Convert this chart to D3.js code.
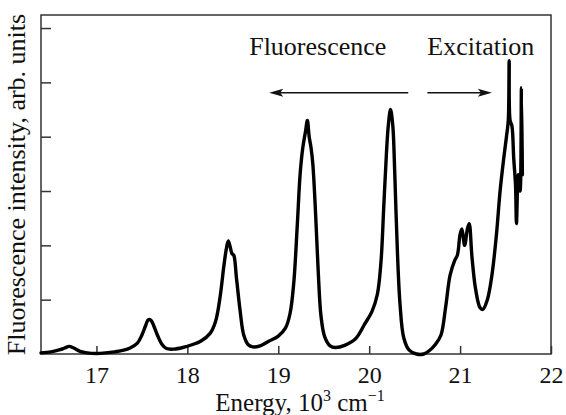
<!DOCTYPE html>
<html>
<head>
<meta charset="utf-8">
<script src="https://cdn.jsdelivr.net/npm/d3@7/dist/d3.min.js"></script>
<style>
  html, body { margin: 0; padding: 0; background: #fff; }
  svg { display: block; }
  text { font-family: "Liberation Serif", "Times New Roman", serif; fill: #111; }
</style>
</head>
<body>
<svg id="chart" width="566" height="415"></svg>
<script>
// Spectrum: energy (10^3 cm^-1) and fluorescence intensity (arb. units)
const energy = [
  16.39, 16.50, 16.60, 16.65, 16.70, 16.75, 16.82, 16.90, 17.00, 17.10,
  17.20, 17.30, 17.37, 17.45, 17.50, 17.54, 17.57, 17.60, 17.63, 17.67,
  17.72, 17.77, 17.85, 17.95, 18.05, 18.15, 18.25, 18.31, 18.36, 18.40,
  18.43, 18.45, 18.47, 18.49, 18.51, 18.54, 18.58, 18.62, 18.67, 18.72,
  18.80, 18.90, 19.00, 19.08, 19.13, 19.17, 19.21, 19.24, 19.27, 19.30,
  19.32, 19.34, 19.36, 19.38, 19.41, 19.44, 19.47, 19.51, 19.57, 19.63,
  19.73, 19.85, 19.95, 20.03, 20.09, 20.13, 20.16, 20.19, 20.21, 20.235,
  20.26, 20.28, 20.31, 20.34, 20.38, 20.44, 20.52, 20.60, 20.66, 20.73,
  20.79, 20.84, 20.89, 20.94, 20.97, 21.00, 21.02, 21.05, 21.08, 21.10,
  21.13, 21.17, 21.22, 21.25, 21.30, 21.35, 21.40, 21.44, 21.48, 21.51,
  21.53, 21.54, 21.55, 21.57, 21.59, 21.61, 21.62, 21.64, 21.66, 21.675,
  21.685
];
const intensity = [
  0.02, 0.04, 0.08, 0.11, 0.14, 0.11, 0.05, 0.02, 0.01, 0.02,
  0.04, 0.07, 0.11, 0.20, 0.35, 0.52, 0.63, 0.62, 0.52, 0.35,
  0.18, 0.10, 0.09, 0.12, 0.17, 0.24, 0.38, 0.60, 1.05, 1.60,
  1.95, 2.08, 1.98, 1.85, 1.82, 1.40, 0.80, 0.35, 0.17, 0.13,
  0.15, 0.24, 0.33, 0.48, 0.75, 1.30, 2.40, 3.30, 3.80, 4.10,
  4.30, 4.00, 3.80, 3.50, 2.60, 1.50, 0.70, 0.32, 0.15, 0.12,
  0.16, 0.28, 0.55, 0.78, 1.10, 1.70, 2.70, 3.70, 4.20, 4.50,
  4.20, 3.40, 1.90, 0.90, 0.30, 0.07, 0.00, 0.00, 0.06, 0.18,
  0.35, 0.85, 1.45, 1.72, 1.82, 2.20, 2.30, 2.00, 2.30, 2.40,
  1.80, 1.20, 0.85, 0.82, 1.00, 1.45, 2.20, 3.00, 3.60, 4.00,
  4.30, 5.40, 4.30, 4.20, 3.60, 3.10, 2.40, 3.30, 3.00, 4.90,
  3.30
];
const xTicks = [17, 18, 19, 20, 21, 22];
const yTicks = [1, 2, 3, 4, 5, 6];

const svg = d3.select("#chart");
const margin = { left: 41, right: 15, top: 15, bottom: 61 };
const W = 566, H = 415;

const x = d3.scaleLinear().domain([16.39, 22]).range([margin.left, W - margin.right]);
const y = d3.scaleLinear().domain([0, 6.24]).range([H - margin.bottom, margin.top]);

// Axes with inward ticks
const xAxis = d3.axisBottom(x).tickValues(xTicks).tickSize(-8).tickPadding(12).tickFormat(d3.format("d"));
const gx = svg.append("g").attr("transform", `translate(0,${y(0)})`).call(xAxis);
gx.select(".domain").remove();
gx.selectAll(".tick line").attr("stroke", "#333").attr("stroke-width", 1.5);
gx.selectAll(".tick text").attr("font-size", 24).attr("dy", "0.71em")
  .style("font-family", "'Liberation Serif', serif").attr("fill", "#111");

const yAxis = d3.axisLeft(y).tickValues(yTicks).tickSize(-10).tickFormat("");
const gy = svg.append("g").attr("transform", `translate(${x(16.39)},0)`).call(yAxis);
gy.select(".domain").remove();
gy.selectAll(".tick line").attr("stroke", "#333").attr("stroke-width", 1.5);

// Frame
svg.append("rect")
  .attr("x", x(16.39)).attr("y", y(6.24))
  .attr("width", x(22) - x(16.39)).attr("height", y(0) - y(6.24))
  .attr("fill", "none").attr("stroke", "#333").attr("stroke-width", 1.5);

// Spectrum line
const pts = energy.map((e, i) => [e, intensity[i]]);
const line = d3.line().x(d => x(d[0])).y(d => y(d[1])).curve(d3.curveCatmullRom.alpha(0.5));
svg.append("path").datum(pts)
  .attr("d", line)
  .attr("fill", "none").attr("stroke", "#000").attr("stroke-width", 3.4)
  .attr("stroke-linejoin", "round").attr("stroke-linecap", "round");

// Annotations
svg.append("text").attr("x", x(18.68)).attr("y", y(5.51)).attr("font-size", 26).text("Fluorescence");
svg.append("text").attr("x", x(20.64)).attr("y", y(5.51)).attr("font-size", 26).text("Excitation");

function arrow(e0, e1, level) {
  const x0 = x(e0), x1 = x(e1), yy = y(level);
  const dir = Math.sign(x1 - x0);
  svg.append("line").attr("x1", x0).attr("y1", yy).attr("x2", x1 - dir * 8).attr("y2", yy)
    .attr("stroke", "#111").attr("stroke-width", 1.5);
  svg.append("path")
    .attr("d", `M${x1},${yy} L${x1 - dir * 14},${yy - 4} L${x1 - dir * 11},${yy} L${x1 - dir * 14},${yy + 4} Z`)
    .attr("fill", "#111");
}
arrow(20.43, 18.90, 4.81);
arrow(20.64, 21.35, 4.81);

// Axis titles
const xt = svg.append("text").attr("x", 300).attr("y", 411).attr("text-anchor", "middle").attr("font-size", 25);
xt.append("tspan").text("Energy, 10");
xt.append("tspan").attr("font-size", 16).attr("dy", -10).text("3");
xt.append("tspan").attr("dy", 10).text(" cm");
xt.append("tspan").attr("font-size", 16).attr("dy", -10).text("\u22121");

svg.append("text")
  .attr("transform", `translate(25,${(y(0) + y(6.24)) / 2}) rotate(-90)`)
  .attr("text-anchor", "middle").attr("font-size", 26)
  .text("Fluorescence intensity, arb. units");
</script>
</body>
</html>
